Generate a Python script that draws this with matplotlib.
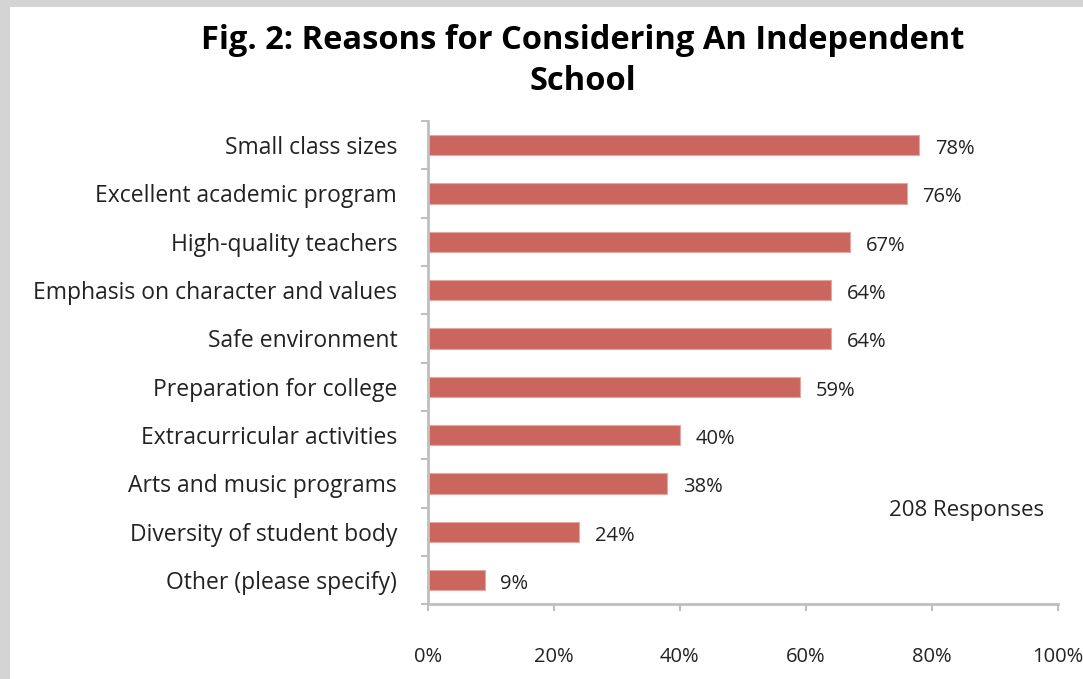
from matplotlib import pyplot as plt
from matplotlib.patches import Rectangle
import numpy as np

# data
reasons = ['Small class sizes', 'Excellent academic program', 'High-quality teachers',
           'Emphasis on character and values', 'Safe environment', 'Preparation for college',
           'Extracurricular activities', 'Arts and music programs',
           'Diversity of student body', 'Other (please specify)']
percent = [78, 76, 67, 64, 64, 59, 40, 38, 24, 9]
x_ticks = [0, 20, 40, 60, 80, 100]
note = '208 Responses'

plt.rcParams['font.family'] = ['Open Sans', 'DejaVu Sans']
bar_color = '#CB665E'
axis_gray = '#BFBFBF'

fig = plt.figure(figsize=(10.83, 6.79), dpi=100)
fig.patch.set_facecolor('white')

# gray frame at left and top
fig.patches.append(Rectangle((0, 0), 0.0095, 1, transform=fig.transFigure,
                             facecolor='#D4D4D4', edgecolor='none', zorder=0))
fig.patches.append(Rectangle((0, 0.99), 1, 0.01, transform=fig.transFigure,
                             facecolor='#D4D4D4', edgecolor='none', zorder=0))

ax = fig.add_axes([0.395, 0.110, 0.582, 0.712])
y = np.arange(len(reasons))
ax.barh(y, percent, height=0.42, color=bar_color, edgecolor='#E2A7A2', linewidth=0.8)
ax.set_ylim(len(reasons) - 0.5, -0.5)
ax.set_xlim(0, 100)

for yi, p in zip(y, percent):
    ax.text(p + 2.5, yi + 0.08, f'{p}%', va='center', ha='left', fontsize=14.5, color='#222222')

ax.set_yticks(y)
ax.set_yticklabels(reasons, fontsize=16.5, color='#222222')
ax.set_yticks(np.arange(-0.5, len(reasons), 1), minor=True)
ax.tick_params(axis='y', which='major', length=0, pad=22)
ax.tick_params(axis='y', which='minor', length=5, color=axis_gray, width=1.5)

ax.set_xticks(x_ticks)
ax.set_xticklabels([f'{t}%' for t in x_ticks], fontsize=14.5, color='#222222')
ax.tick_params(axis='x', length=5, color=axis_gray, width=1.5, pad=26)

for side in ['top', 'right']:
    ax.spines[side].set_visible(False)
for side in ['left', 'bottom']:
    ax.spines[side].set_color(axis_gray)
    ax.spines[side].set_linewidth(2)

ax.text(0.855, 0.195, note, transform=ax.transAxes, ha='center', va='center',
        fontsize=16, color='#222222')

fig.text(0.538, 0.910, 'Fig. 2: Reasons for Considering An Independent\nSchool',
         ha='center', va='center', fontsize=23.5, fontweight='bold', linespacing=1.35)

plt.savefig('out.png', dpi=100)
